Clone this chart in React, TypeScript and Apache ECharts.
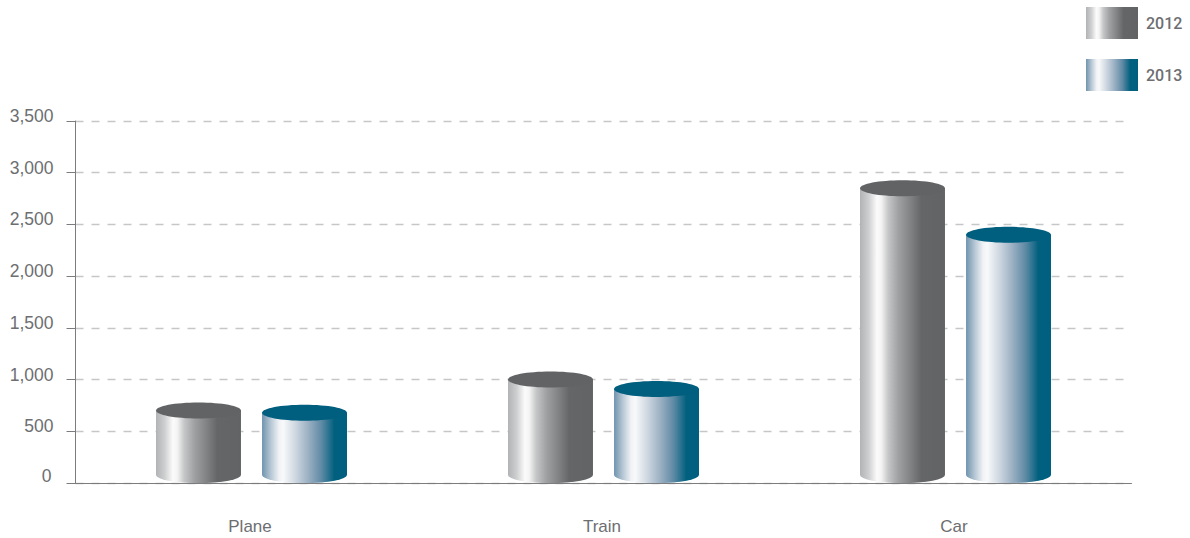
import React, { useEffect, useRef } from "react";
import * as echarts from "echarts";

const categories = ["Plane", "Train", "Car"];
const values2012 = [700, 1000, 2850];
const values2013 = [680, 910, 2400];
const seriesNames = ["2012", "2013"];

const FONT = '"Liberation Sans", Arial, sans-serif';
const TEXT_COLOR = "#6d6e71";

function sideGradient(stops: [number, string][]) {
  return new echarts.graphic.LinearGradient(
    0, 0, 1, 0,
    stops.map(([offset, color]) => ({ offset, color }))
  );
}

const greyBody = sideGradient([
  [0, "#b2b3b4"],
  [0.1, "#cdcecf"],
  [0.2, "#fbfbfb"],
  [0.25, "#f4f4f4"],
  [0.33, "#c6c7c8"],
  [0.45, "#a0a1a2"],
  [0.6, "#808183"],
  [0.72, "#656668"],
  [1, "#626365"],
]);
const blueBody = sideGradient([
  [0, "#6f93ad"],
  [0.1, "#b4c5d3"],
  [0.2, "#f0f2f6"],
  [0.25, "#f8f9fa"],
  [0.4, "#ccd5df"],
  [0.55, "#99afc2"],
  [0.7, "#5f8aa5"],
  [0.85, "#02607f"],
  [1, "#005f80"],
]);
const greyCap = "#626365";
const blueCap = "#005e7e";

// Draws one cylinder: a curved-bottom body with an elliptical lid on top.
function cylinder(side: 0 | 1, body: unknown, cap: string) {
  return (params: any, api: any) => {
    const band = api.size([1, 0])[0];
    const rx = band * 0.1207;
    const ry = 8;
    const [cx0, topY] = api.coord([api.value(0), api.value(1)]);
    const [, baseY] = api.coord([api.value(0), 0]);
    const cx = cx0 + (side === 0 ? -1 : 1) * band * 0.1506;
    const left = cx - rx;
    const right = cx + rx;
    const bottomY = baseY - ry;
    const d =
      `M${left} ${topY}L${left} ${bottomY}` +
      `A${rx} ${ry} 0 0 0 ${right} ${bottomY}L${right} ${topY}Z`;
    return {
      type: "group",
      children: [
        { type: "path", shape: { pathData: d }, style: { fill: body } },
        {
          type: "ellipse",
          shape: { cx, cy: topY, rx, ry },
          style: { fill: cap },
        },
      ],
    };
  };
}

export default function App() {
  const ref = useRef<HTMLDivElement>(null);

  useEffect(() => {
    const chart = echarts.init(ref.current!, undefined, { renderer: "svg" });
    chart.setOption({
      animation: false,
      grid: { left: 75.5, top: 121, width: 1056, height: 362, containLabel: false },
      legend: {
        orient: "vertical",
        left: 1086,
        top: 7,
        padding: 0,
        itemWidth: 52,
        itemHeight: 32,
        itemGap: 20,
        icon: "rect",
        selectedMode: false,
        formatter: "{t|{name}}",
        textStyle: {
          color: TEXT_COLOR,
          rich: {
            t: {
              color: TEXT_COLOR,
              fontFamily: "Roboto, " + FONT,
              fontWeight: 500,
              fontSize: 16,
              padding: [0, 0, 0, 3],
            },
          },
        },
        data: seriesNames,
      },
      xAxis: {
        type: "category",
        data: categories,
        axisLine: { lineStyle: { color: "#7b7c7e", width: 1 } },
        axisTick: { show: false },
        axisLabel: {
          margin: 35,
          formatter: "{c|{value}}",
          rich: {
            c: {
              color: TEXT_COLOR,
              fontFamily: FONT,
              fontSize: 17,
              padding: [0, 3, 0, 0],
            },
          },
        },
      },
      yAxis: {
        type: "value",
        min: 0,
        max: 3500,
        interval: 500,
        axisLine: { show: true, lineStyle: { color: "#7b7c7e", width: 1 } },
        axisTick: { show: true, length: 9, lineStyle: { color: "#7b7c7e" } },
        axisLabel: {
          color: TEXT_COLOR,
          fontFamily: FONT,
          fontSize: 17.5,
          margin: 22,
          lineHeight: 10,
          verticalAlign: "bottom",
          formatter: (v: number) =>
            v === 0 ? "{z|0}" : v.toLocaleString("en-US"),
          rich: {
            z: {
              color: TEXT_COLOR,
              fontFamily: FONT,
              fontSize: 17.5,
              lineHeight: 10,
              padding: [0, 2, 5, 0],
            },
          },
        },
        splitLine: {
          show: true,
          lineStyle: { color: "#c6c7c8", type: [8, 8], width: 1.4 },
        },
      },
      series: [
        {
          name: seriesNames[0],
          type: "custom",
          itemStyle: { color: greyBody },
          encode: { x: 0, y: 1 },
          data: categories.map((_, i) => [i, values2012[i]]),
          renderItem: cylinder(0, greyBody, greyCap),
        },
        {
          name: seriesNames[1],
          type: "custom",
          itemStyle: { color: blueBody },
          encode: { x: 0, y: 1 },
          data: categories.map((_, i) => [i, values2013[i]]),
          renderItem: cylinder(1, blueBody, blueCap),
        },
      ],
    });
    return () => chart.dispose();
  }, []);

  return (
    <div
      ref={ref}
      style={{ position: "absolute", left: 0, top: 0, width: 1190, height: 538 }}
    />
  );
}
